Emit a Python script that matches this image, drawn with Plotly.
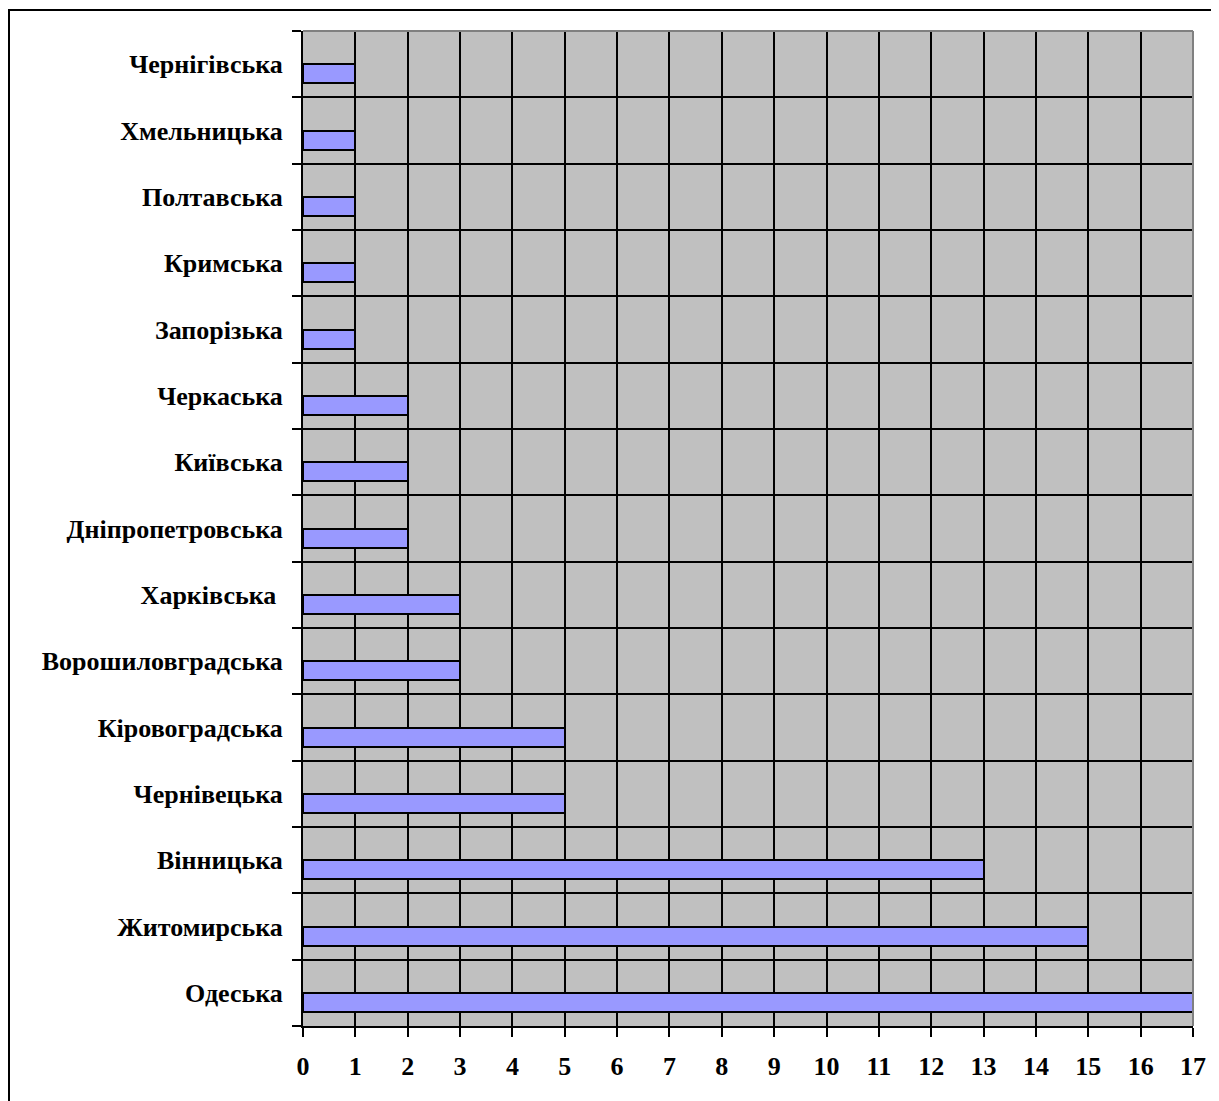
import plotly.graph_objects as go

regions = ["Одеська", "Житомирська", "Вінницька", "Чернівецька", "Кіровоградська",
           "Ворошиловградська", "Харківська\u00a0", "Дніпропетровська", "Київська",
           "Черкаська", "Запорізька", "Кримська", "Полтавська", "Хмельницька", "Чернігівська"]
values = [17, 15, 13, 5, 5, 3, 3, 2, 2, 2, 1, 1, 1, 1, 1]
x_ticks = list(range(0, 18))

OFF = 8  # page body margin
W, H = 1219 - OFF, 1101 - OFF
L, R, T, B = 303 - OFF, 1193 - OFF, 31 - OFF, 1026 - OFF
pw, ph = R - L, B - T

font_family = "Liberation Serif, Times New Roman, serif"

fig = go.Figure()
fig.add_trace(go.Bar(
    x=values, y=regions, orientation="h",
    width=0.29, offset=-0.29,
    marker=dict(color="#9999FF", line=dict(color="black", width=2)),
    hoverinfo="x+y",
))

fig.update_layout(
    width=W, height=H,
    margin=dict(l=L, r=W - R, t=T, b=H - B, pad=0),
    paper_bgcolor="white", plot_bgcolor="#C0C0C0",
    showlegend=False,
    font=dict(family=font_family, size=26, color="black"),
    bargap=0,
)
fig.update_xaxes(
    range=[0, 17], tickmode="array", tickvals=x_ticks, ticktext=[str(v) for v in x_ticks],
    showgrid=True, gridcolor="black", gridwidth=2,
    showline=True, linecolor="black", linewidth=2,
    ticks="outside", ticklen=9, tickwidth=2, tickcolor="black",
    ticklabelstandoff=7,
    tickfont=dict(family=font_family, size=26, weight="bold"),
    zeroline=False, fixedrange=True,
)
fig.update_yaxes(
    type="category", categoryorder="array", categoryarray=regions,
    range=[-0.5, len(regions) - 0.5],
    tickson="boundaries",
    showgrid=True, gridcolor="black", gridwidth=2,
    showline=True, linecolor="black", linewidth=2,
    ticks="outside", ticklen=9, tickwidth=2, tickcolor="black",
    ticklabelstandoff=13,
    tickfont=dict(family=font_family, size=26, weight="bold"),
    zeroline=False, fixedrange=True,
)

# grey top and right plot-area border
fig.add_shape(type="line", xref="paper", yref="paper", x0=0, x1=1, y0=1, y1=1,
              line=dict(color="#808080", width=2), layer="above")
fig.add_shape(type="line", xref="paper", yref="paper", x0=1, x1=1, y0=0, y1=1,
              line=dict(color="#808080", width=2), layer="above")
# outer chart border (extends beyond the page on right/bottom)
fig.add_shape(type="rect", xref="paper", yref="paper",
              x0=(9 - OFF - L) / pw, x1=(1240 - OFF - L) / pw,
              y0=(B - (1120 - OFF)) / ph, y1=1 + (T - (10 - OFF)) / ph,
              line=dict(color="black", width=2), layer="above")

fig.write_html("out.html")
